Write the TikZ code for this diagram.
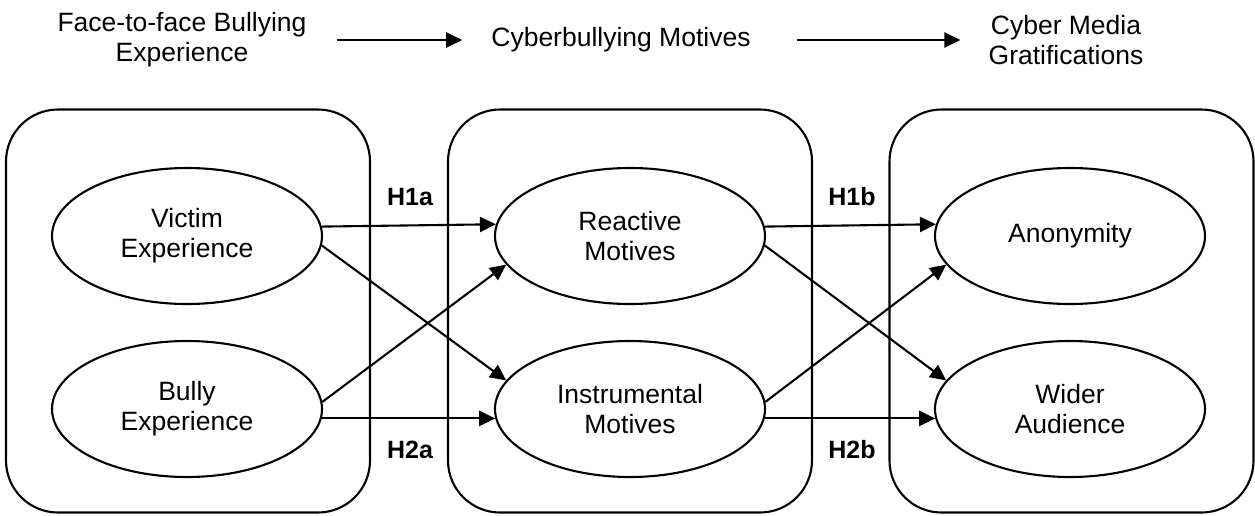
\documentclass[tikz,border=0pt]{standalone}
\usepackage{fontspec}
\setmainfont{Liberation Sans}
\usetikzlibrary{shapes.geometric,arrows.meta}
\begin{document}
\begin{tikzpicture}[x=1pt,y=-1pt,
  lw/.style={line width=2.1pt},
  grp/.style={draw,lw,rounded corners=52pt,minimum width=364pt,minimum height=403pt,inner sep=0pt},
  ell/.style={draw,lw,ellipse,minimum width=270pt,minimum height=136pt,inner sep=0pt,align=center,font=\fontsize{26.5}{30}\selectfont},
  ttl/.style={align=center,font=\fontsize{26.5}{30}\selectfont,inner sep=0pt},
  hyp/.style={font=\fontsize{25}{28}\selectfont\bfseries,inner sep=0pt},
  arr/.style={lw,-{Triangle[length=16pt,width=15pt]}}]
\useasboundingbox (0,0) rectangle (1255,515);
% title row
\node[ttl] (t1) at (182,40) {Face-to-face Bullying\\Experience};
\node[ttl] (t2) at (621,40) {Cyberbullying Motives};
\node[ttl] (t3) at (1066,40) {Cyber Media\\Gratifications};
\draw[arr] ([xshift=30pt]t1.east) -- ([xshift=-29pt]t2.west);
\draw[arr] ([xshift=46pt]t2.east) -- ([xshift=-28pt]t3.west);
% groups
\node[grp] (g1) at (188,311) {};
\node[grp] (g2) at (630,311) {};
\node[grp] (g3) at (1071.5,311) {};
% ellipses
\node[ell] (v) at (187,236) {Victim\\Experience};
\node[ell] (b) at (187,409) {Bully\\Experience};
\node[ell] (r) at (630,236) {Reactive\\Motives};
\node[ell] (i) at (630,409) {Instrumental\\Motives};
\node[ell] (a) at (1070,236) {Anonymity};
\node[ell] (w) at (1070,409) {Wider\\Audience};
% connectors
\draw[arr] (v.4.5) -- (r.175.5);
\draw[arr] (v.-4.5) -- (i.167);
\draw[arr] (b.3.5) -- (r.193);
\draw[arr] (b.-4) -- (i.184);
\draw[arr] (r.4.5) -- (a.175.5);
\draw[arr] (r.-4.5) -- (w.167);
\draw[arr] (i.3.5) -- (a.193);
\draw[arr] (i.-4) -- (w.184);
% hypothesis labels
\node[hyp] (h1a) at (410,197) {H1a};
\node[hyp] (h2a) at (410,450) {H2a};
\node[hyp] (h1b) at (852,197) {H1b};
\node[hyp] (h2b) at (852,450) {H2b};
\end{tikzpicture}
\end{document}
